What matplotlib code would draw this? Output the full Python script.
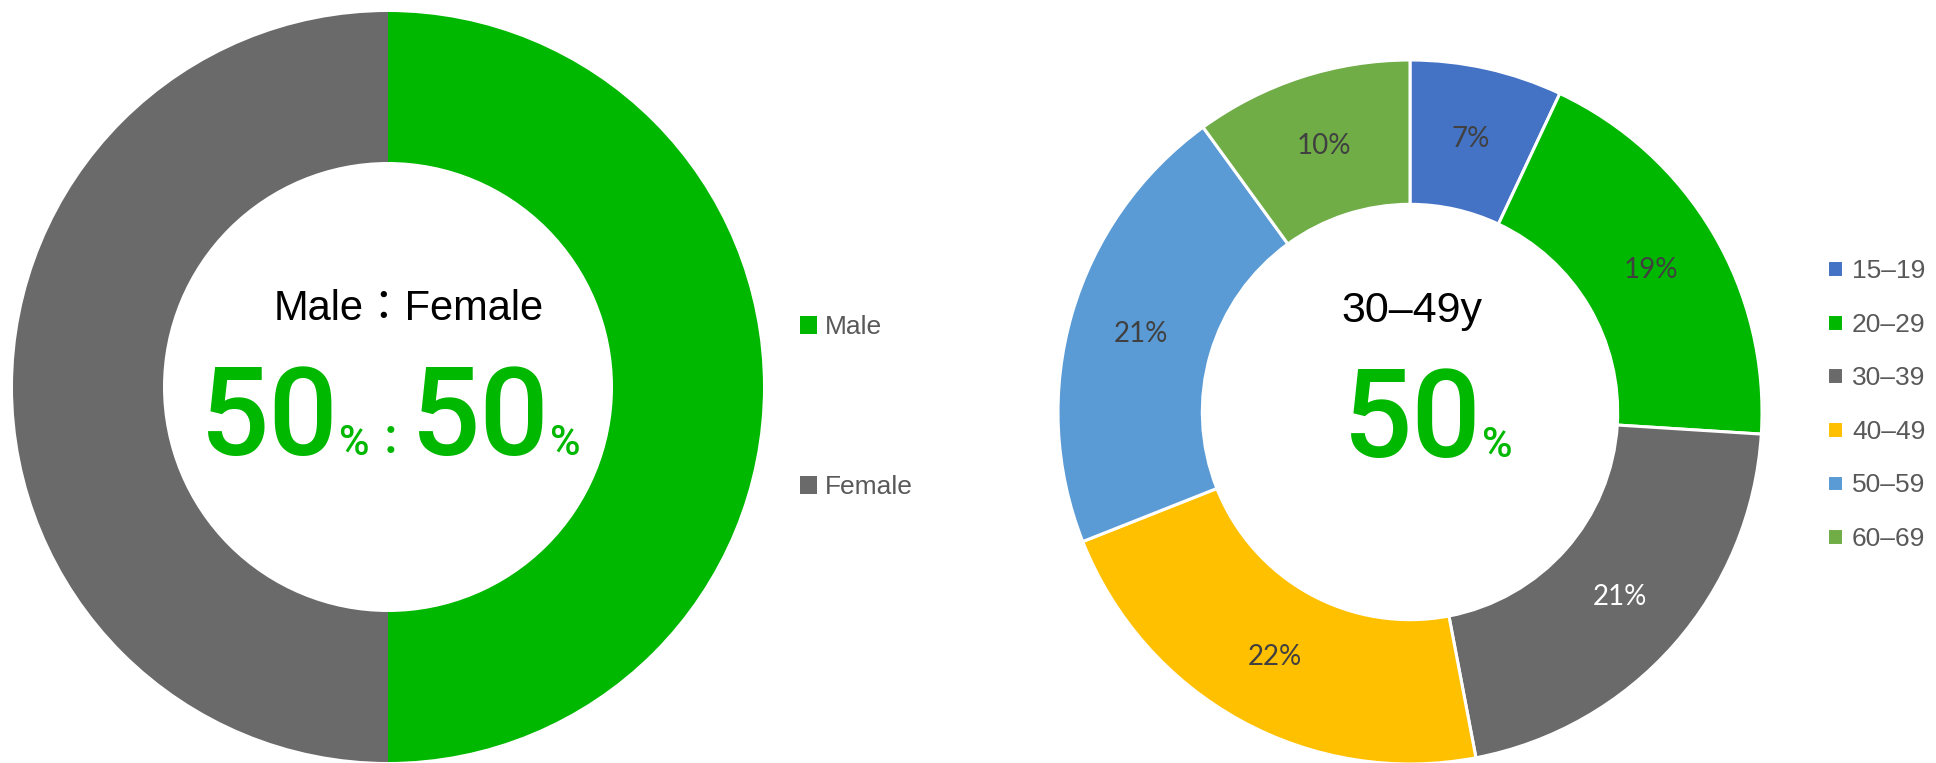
import matplotlib
matplotlib.use('Agg')
import matplotlib.pyplot as plt
import numpy as np

plt.rcParams['font.family'] = ['Liberation Sans', 'Noto Sans CJK JP', 'DejaVu Sans']

# ---- data ----
gender_labels = ['Male', 'Female']
gender_values = [50, 50]
gender_colors = ['#00B800', '#6A6A6A']

age_labels = ['15–19', '20–29', '30–39', '40–49', '50–59', '60–69']
age_values = [7, 19, 21, 22, 21, 10]
age_colors = ['#4472C4', '#00B800', '#6A6A6A', '#FFC000', '#5B9BD5', '#70AD47']
age_label_colors = ['#404040', '#404040', 'white', '#404040', '#404040', '#404040']

W, H = 1936, 763
GREEN = '#00B800'
LEG_GRAY = '#595959'
BIG_FONT = ['Roboto', 'Noto Sans CJK JP']

fig = plt.figure(figsize=(W / 100, H / 100), dpi=100)


def square_axes(cx, cy, r):
    # cx, cy in pixels from top-left
    return fig.add_axes([(cx - r) / W, (H - cy - r) / H, 2 * r / W, 2 * r / H])


def chain_text(x, baseline, pieces, color):
    # lay text pieces left to right on one baseline (pixel coords, y from top)
    renderer = fig.canvas.get_renderer()
    for s, size in pieces:
        t = fig.text(x / W, (H - baseline) / H, s, fontsize=size, color=color,
                     ha='left', va='baseline', family=BIG_FONT, fontweight='medium')
        x = t.get_window_extent(renderer).x1


# ---- left donut: gender ----
ax1 = square_axes(388, 387, 375)
w1, _ = ax1.pie(gender_values, colors=gender_colors, startangle=90, counterclock=False,
                wedgeprops=dict(width=0.4, edgecolor='none'))
ax1.set_xlim(-1, 1)
ax1.set_ylim(-1, 1)
ax1.axis('off')

fig.text(409 / W, (H - 320) / H, 'Male：Female', fontsize=30, color='black',
         ha='center', va='baseline')
chain_text(200, 455, [('50', 88), ('%', 30), ('：', 30), ('50', 88), ('%', 30)], GREEN)

fig.legend(w1, gender_labels, loc='upper left', bbox_to_anchor=(800 / W, (H - 315) / H),
           frameon=False, fontsize=19, labelcolor=LEG_GRAY, handlelength=0.65,
           handleheight=0.65, handletextpad=0.3, labelspacing=5.17, borderpad=0,
           borderaxespad=0)

# ---- right donut: age groups ----
ax2 = square_axes(1410, 412, 352)
w2, _ = ax2.pie(age_values, colors=age_colors, startangle=90, counterclock=False,
                wedgeprops=dict(width=0.41, edgecolor='white', linewidth=2.2))
ax2.set_xlim(-1, 1)
ax2.set_ylim(-1, 1)
ax2.axis('off')

for wedge, val, c in zip(w2, age_values, age_label_colors):
    ang = np.deg2rad((wedge.theta1 + wedge.theta2) / 2)
    ax2.text(0.795 * np.cos(ang), 0.795 * np.sin(ang), f'{val}%', ha='center', va='center',
             fontsize=20, color=c, family='Lato')

fig.text(1412 / W, (H - 322) / H, '30–49y', fontsize=31, color='black',
         ha='center', va='baseline')
chain_text(1343, 457, [('50', 88), ('%', 30)], GREEN)

fig.legend(w2, age_labels, loc='upper left', bbox_to_anchor=(1827 / W, (H - 259) / H),
           frameon=False, fontsize=19, labelcolor=LEG_GRAY, handlelength=0.6,
           handleheight=0.6, handletextpad=0.35, labelspacing=1.12, borderpad=0,
           borderaxespad=0)

fig.savefig('out.png', dpi=100)
